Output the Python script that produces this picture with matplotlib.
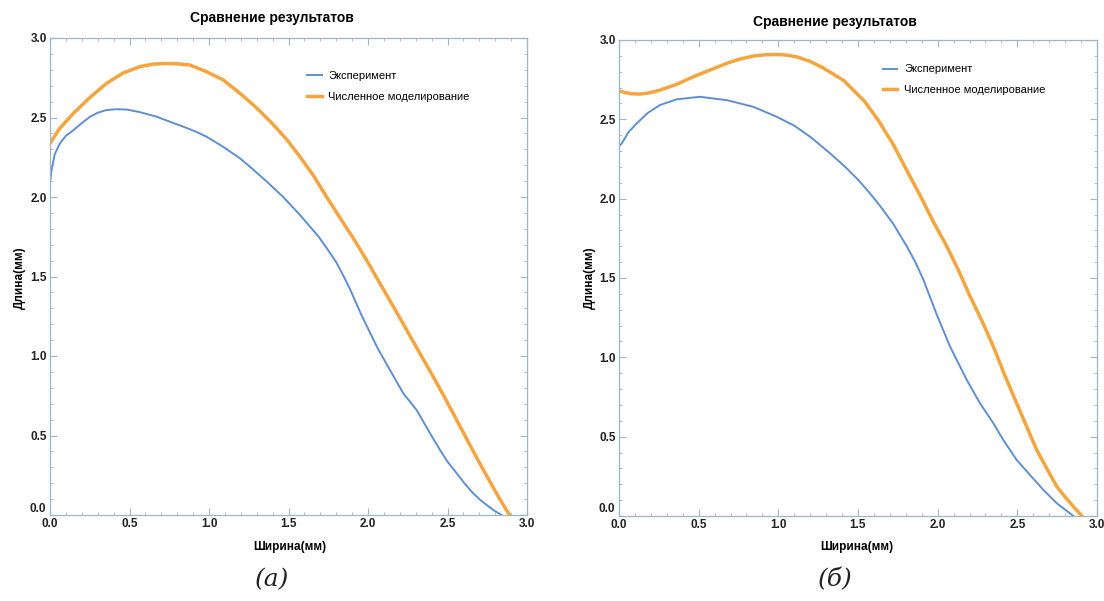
import matplotlib
matplotlib.use("Agg")
import matplotlib.pyplot as plt
import matplotlib.transforms as mtransforms
from matplotlib.ticker import MultipleLocator, FuncFormatter, FormatStrFormatter

plt.rcParams["font.family"] = ["Liberation Sans", "DejaVu Sans"]

# panel (a)
a_exp_x = [0.0, 0.01, 0.03, 0.063, 0.10, 0.147, 0.20, 0.252, 0.30, 0.356, 0.42, 0.482, 0.56, 0.671,
           0.75, 0.839, 0.92, 0.985, 1.09, 1.195, 1.258, 1.36, 1.467, 1.572, 1.69, 1.75, 1.803, 1.85,
           1.887, 1.96, 2.06, 2.138, 2.222, 2.306, 2.39, 2.453, 2.50, 2.558, 2.61, 2.662, 2.706,
           2.746, 2.79, 2.84]
a_exp_y = [2.09, 2.17, 2.27, 2.338, 2.385, 2.42, 2.465, 2.505, 2.53, 2.547, 2.552, 2.55, 2.535, 2.505,
           2.475, 2.442, 2.41, 2.379, 2.315, 2.243, 2.19, 2.10, 2.0, 1.887, 1.75, 1.665, 1.585, 1.495,
           1.42, 1.255, 1.05, 0.912, 0.765, 0.66, 0.514, 0.409, 0.335, 0.262, 0.195, 0.136, 0.095,
           0.063, 0.03, 0.0]
a_sim_x = [0.0, 0.06, 0.147, 0.25, 0.356, 0.46, 0.566, 0.65, 0.734, 0.81, 0.88, 0.98, 1.09, 1.195,
           1.30, 1.40, 1.49, 1.572, 1.66, 1.74, 1.82, 1.908, 1.99, 2.075, 2.16, 2.243, 2.33, 2.41,
           2.49, 2.558, 2.62, 2.70, 2.80, 2.85, 2.89]
a_sim_y = [2.338, 2.43, 2.526, 2.625, 2.715, 2.78, 2.82, 2.836, 2.84, 2.837, 2.83, 2.79, 2.736, 2.652,
           2.56, 2.46, 2.36, 2.254, 2.13, 2.0, 1.875, 1.74, 1.605, 1.457, 1.31, 1.164, 1.01, 0.87,
           0.725, 0.597, 0.48, 0.33, 0.15, 0.065, 0.0]

# panel (б)
b_exp_x = [0.0, 0.017, 0.06, 0.111, 0.18, 0.257, 0.362, 0.508, 0.676, 0.843, 0.99, 1.1, 1.2, 1.32,
           1.42, 1.5, 1.57, 1.638, 1.722, 1.806, 1.86, 1.91, 1.994, 2.078, 2.183, 2.266, 2.35, 2.412,
           2.496, 2.58, 2.664, 2.748, 2.80, 2.852]
b_exp_y = [2.33, 2.348, 2.42, 2.474, 2.54, 2.59, 2.626, 2.642, 2.621, 2.579, 2.516, 2.46, 2.39, 2.29,
           2.2, 2.12, 2.04, 1.955, 1.84, 1.70, 1.60, 1.49, 1.27, 1.067, 0.857, 0.71, 0.584, 0.479,
           0.353, 0.258, 0.164, 0.08, 0.04, 0.0]
b_sim_x = [0.0, 0.017, 0.07, 0.132, 0.19, 0.257, 0.36, 0.466, 0.57, 0.676, 0.76, 0.843, 0.92, 0.99,
           1.05, 1.115, 1.2, 1.28, 1.41, 1.54, 1.63, 1.722, 1.80, 1.89, 1.97, 2.057, 2.13, 2.203,
           2.28, 2.35, 2.42, 2.496, 2.56, 2.622, 2.69, 2.748, 2.80, 2.852, 2.905]
b_sim_y = [2.68, 2.674, 2.662, 2.659, 2.667, 2.684, 2.72, 2.768, 2.81, 2.853, 2.88, 2.899, 2.907, 2.909,
           2.905, 2.894, 2.865, 2.825, 2.745, 2.615, 2.49, 2.34, 2.19, 2.02, 1.86, 1.70, 1.55, 1.385,
           1.225, 1.067, 0.89, 0.71, 0.56, 0.416, 0.29, 0.185, 0.12, 0.059, 0.0]

title = "Сравнение результатов"
xlabel = "Ширина(мм)"
ylabel = "Длина(мм)"
legend_labels = ["Эксперимент", "Численное моделирование"]
captions = ["(a)", "(б)"]

blue = "#5F8FD2"
orange = "#F4A540"
frame = "#9FB6C6"

fig = plt.figure(figsize=(11.04, 6.01), dpi=100)
ax1 = fig.add_axes([50 / 1104, 86 / 601, 477 / 1104, 477 / 601])
ax2 = fig.add_axes([619 / 1104, 85 / 601, 478 / 1104, 476 / 601])

panels = [(ax1, a_exp_x, a_exp_y, a_sim_x, a_sim_y, (0.53, 0.94), 272, 18, 290, 20),
          (ax2, b_exp_x, b_exp_y, b_sim_x, b_sim_y, (0.543, 0.958), 835, 22, 857, 590)]

# y "0.0" is drawn separately, just above the corner, so it does not sit on the x "0.0"
y_fmt = FuncFormatter(lambda v, pos: "" if abs(v) < 1e-9 else f"{v:.1f}")

for ax, ex, ey, sx, sy, leg_pos, title_x, title_y, xl_x, yl_x in panels:
    ax.plot(ex, ey, color=blue, lw=1.4, label=legend_labels[0], solid_joinstyle="round")
    ax.plot(sx, sy, color=orange, lw=2.5, label=legend_labels[1], solid_joinstyle="round")
    ax.set_xlim(0, 3.0)
    ax.set_ylim(0, 3.0)
    ax.xaxis.set_major_locator(MultipleLocator(0.5))
    ax.yaxis.set_major_locator(MultipleLocator(0.5))
    ax.xaxis.set_minor_locator(MultipleLocator(0.1))
    ax.yaxis.set_minor_locator(MultipleLocator(0.1))
    ax.xaxis.set_major_formatter(FormatStrFormatter("%.1f"))
    ax.yaxis.set_major_formatter(y_fmt)
    ax.tick_params(which="both", direction="in", top=True, right=True, color=frame,
                   labelsize=8.5, labelcolor="#222222", pad=2)
    ax.tick_params(which="major", length=5, width=0.8)
    ax.tick_params(which="minor", length=2.5, width=0.6)
    for lab in ax.get_xticklabels() + ax.get_yticklabels():
        lab.set_fontweight("bold")
    off = mtransforms.ScaledTranslation(-4 / 100, 0.5 / 100, fig.dpi_scale_trans)
    ax.text(0, 0, "0.0", transform=ax.transAxes + off, ha="right", va="bottom",
            fontsize=8.5, fontweight="bold", color="#222222")
    for s in ax.spines.values():
        s.set_color(frame)
        s.set_linewidth(0.9)
    fig.text(title_x / 1104, 1 - title_y / 601, title, fontsize=10, fontweight="bold",
             ha="center", va="center")
    fig.text(xl_x / 1104, 1 - 547 / 601, xlabel, fontsize=8.5, fontweight="bold",
             ha="center", va="center")
    fig.text(yl_x / 1104, 1 - 278 / 601, ylabel, fontsize=8.5, fontweight="bold",
             ha="center", va="center", rotation=90)
    ax.legend(loc="upper left", bbox_to_anchor=leg_pos, frameon=False, fontsize=8,
              handlelength=1.3, handletextpad=0.6, labelspacing=0.95, borderaxespad=0)

fig.text(272 / 1104, 1 - 580 / 601, captions[0], fontsize=18, style="italic", family="DejaVu Serif",
         ha="center", va="center", color="#222222")
fig.text(835 / 1104, 1 - 580 / 601, captions[1], fontsize=18, style="italic", family="DejaVu Serif",
         ha="center", va="center", color="#222222")

fig.savefig("out.png", dpi=100)
